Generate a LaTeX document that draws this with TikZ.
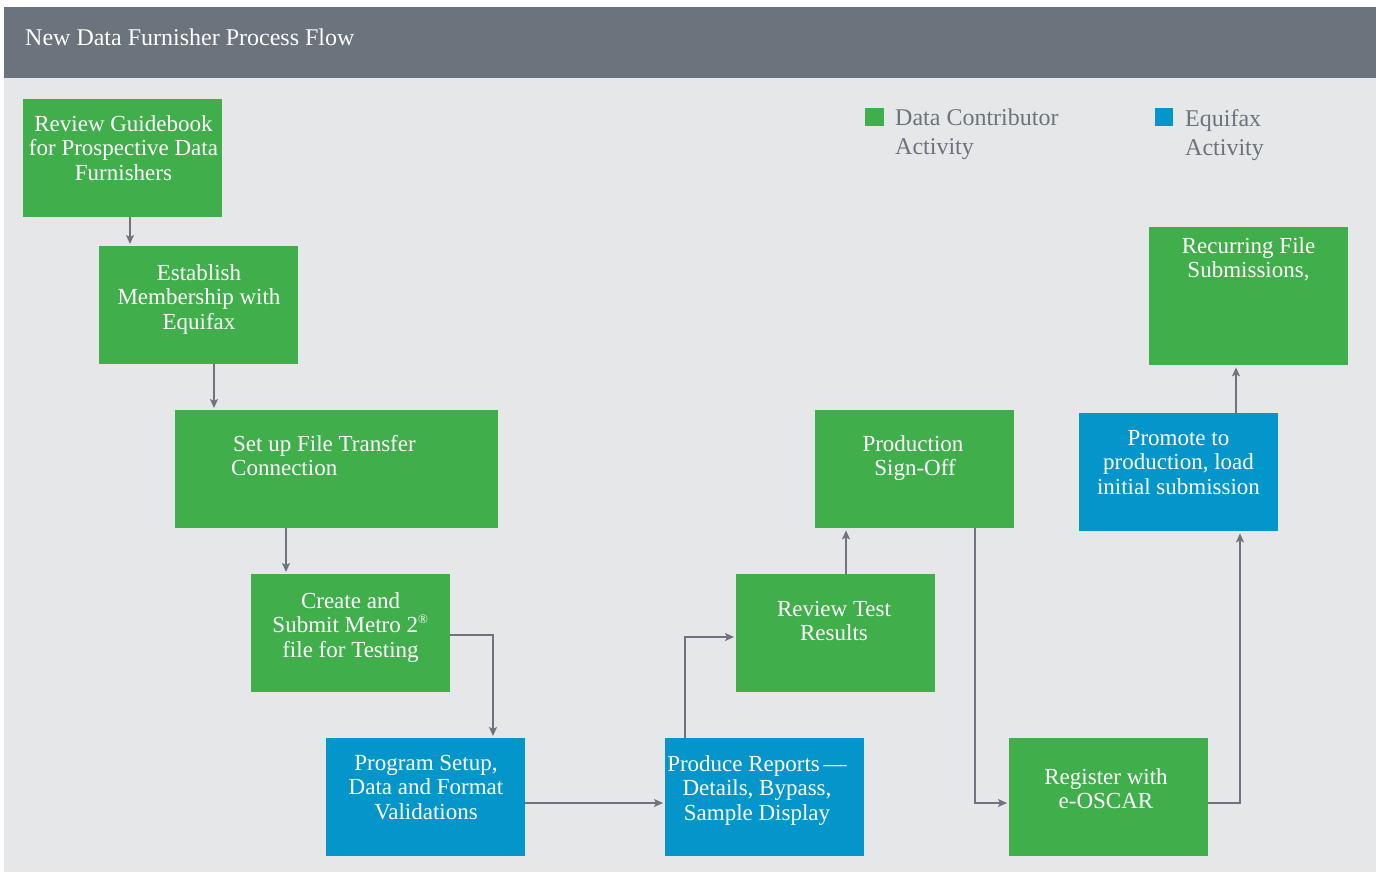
\documentclass[tikz,border=0pt]{standalone}
\usepackage{fontspec}
\setmainfont{Liberation Serif}
\usetikzlibrary{arrows.meta}
\definecolor{hdr}{HTML}{6B737D}
\definecolor{bodybg}{HTML}{E6E7E9}
\definecolor{dgreen}{HTML}{40AE4A}
\definecolor{eblue}{HTML}{0496CA}
\definecolor{linegray}{HTML}{6D747D}
\definecolor{legtext}{HTML}{6B737C}
\tikzset{
  boxbase/.style={draw=none, inner sep=0pt, anchor=north west, minimum width=199pt, minimum height=118pt},
  gbox/.style={boxbase, fill=dgreen},
  bbox/.style={boxbase, fill=eblue},
  btext/.style={text=white, inner sep=0pt, anchor=north, align=center, font=\fontsize{23}{24.5}\selectfont},
  legt/.style={text=legtext, inner sep=0pt, anchor=north west, align=left, font=\fontsize{24}{29}\selectfont},
  arr/.style={draw=linegray, line width=1.5pt, -{Stealth[length=9pt,width=8pt,inset=2pt]}, shorten >=2pt},
}
\begin{document}
\begin{tikzpicture}[x=1pt,y=-1pt]
\useasboundingbox (0,0) rectangle (1379,873);
\fill[white] (0,0) rectangle (1379,873);
\fill[hdr] (4,7) rectangle (1376,78);
\fill[bodybg] (4,78) rectangle (1376,872);
\node[inner sep=0pt, anchor=north west, text=white, font=\fontsize{24}{28}\selectfont] (title) at (25,29) {New Data Furnisher Process Flow};

% legend
\node[fill=dgreen, minimum size=18.5pt, inner sep=0pt, anchor=north west] (lg) at (865,107.5) {};
\node[legt] (lgt) at (895,109) {Data Contributor\\Activity};
\node[fill=eblue, minimum size=18.5pt, inner sep=0pt, anchor=north west] (lb) at (1154.5,107.5) {};
\node[legt] (lbt) at (1185,109) {Equifax\\Activity};

% boxes
\node[gbox] (b1) at (23,99) {};
\node[gbox] (b2) at (99,246) {};
\node[gbox, minimum width=323pt] (b3) at (175,410) {};
\node[gbox] (b4) at (251,574) {};
\node[bbox] (b5) at (326,738) {};
\node[bbox] (b6) at (665,738) {};
\node[gbox] (b7) at (736,574) {};
\node[gbox] (b8) at (815,410) {};
\node[gbox] (b9) at (1009,738) {};
\node[bbox] (b10) at (1079,413) {};
\node[gbox, minimum height=138pt] (b11) at (1149,227) {};

% texts
\node[btext] (t1) at (123.5,115) {Review Guidebook\\for Prospective Data\\Furnishers};
\node[btext] (t2) at (199,264) {Establish\\Membership with\\Equifax};
\node[btext, anchor=north west, align=left] (t3) at (231,435) {\hspace{2pt}Set up File Transfer\\Connection};
\node[btext] (t4) at (350.5,592) {Create and\\Submit Metro 2\textsuperscript{\fontsize{13}{13}\selectfont\textregistered}\\file for Testing};
\node[btext] (t5) at (426,755) {Program Setup,\\Data and Format\\Validations};
\node[btext] (t6) at (757,755) {Produce Reports\,---\\Details, Bypass,\\Sample Display};
\node[btext] (t7) at (834,601) {Review Test\\Results};
\node[btext] (t8) at (913,435) {Production\\\hspace{4pt}Sign-Off};
\node[btext] (t9) at (1106,768) {Register with\\e-OSCAR};
\node[btext] (t10) at (1178.5,430) {Promote to\\production, load\\initial submission};
\node[btext] (t11) at (1248.5,237) {Recurring File\\Submissions,};

% connectors
\draw[arr] (b1.south -| 130,0) -- (b2.north -| 130,0);
\draw[arr] (b2.south -| 214,0) -- (b3.north -| 214,0);
\draw[arr] (b3.south -| 286,0) -- (b4.north -| 286,0);
\draw[arr] (b4.east |- 0,635) -| (b5.north -| 493,0);
\draw[arr] (b5.east |- 0,803) -- (b6.west |- 0,803);
\draw[arr] (b6.north -| 685,0) |- (b7.west |- 0,637);
\draw[arr] (b7.north -| 846,0) -- (b8.south -| 846,0);
\draw[arr] (b8.south -| 975,0) |- (b9.west |- 0,803);
\draw[arr] (b9.east |- 0,803) -| (b10.south -| 1240,0);
\draw[arr] (b10.north -| 1236,0) -- (b11.south -| 1236,0);
\end{tikzpicture}
\end{document}
